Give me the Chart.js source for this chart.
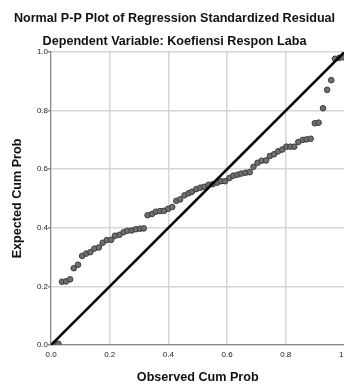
<!DOCTYPE html>
<html>
<head>
<meta charset="utf-8">
<script src="https://cdn.jsdelivr.net/npm/chart.js@4"></script>
<style>
  html, body { margin: 0; padding: 0; background: #fff; overflow: hidden; width: 344px; height: 385px; }
  #wrap { width: 355px; height: 385px; }
</style>
</head>
<body>
<div id="wrap"><canvas id="c" width="355" height="385"></canvas></div>
<script>
const chartTitle = 'Normal P-P Plot of Regression Standardized Residual';
const chartSubtitle = 'Dependent Variable: Koefiensi Respon Laba';
const xAxisTitle = 'Observed Cum Prob';
const yAxisTitle = 'Expected Cum Prob';
const xTickLabels = ['0.0', '0.2', '0.4', '0.6', '0.8', '1.0'];
const yTickLabels = ['0.0', '0.2', '0.4', '0.6', '0.8', '1.0'];

const observedCumProb = [
  0.012, 0.025, 0.0375, 0.051, 0.065, 0.0775, 0.092, 0.106, 0.120, 0.134,
  0.148, 0.163, 0.176, 0.190, 0.205, 0.218, 0.233, 0.247, 0.260, 0.275,
  0.289, 0.303, 0.316, 0.329, 0.344, 0.357, 0.371, 0.385, 0.399, 0.413,
  0.427, 0.440, 0.455, 0.469, 0.480, 0.495, 0.509, 0.522, 0.537, 0.551,
  0.566, 0.579, 0.593, 0.608, 0.621, 0.635, 0.648, 0.663, 0.677, 0.690,
  0.704, 0.718, 0.733, 0.746, 0.760, 0.774, 0.788, 0.802, 0.816, 0.829,
  0.843, 0.858, 0.871, 0.885, 0.899, 0.912, 0.927, 0.941, 0.955, 0.968,
  0.982, 0.996
];
const expectedCumProb = [
  0.003, 0.004, 0.216, 0.217, 0.224, 0.262, 0.274, 0.304, 0.312, 0.317,
  0.329, 0.333, 0.349, 0.358, 0.359, 0.373, 0.376, 0.385, 0.390, 0.391,
  0.395, 0.397, 0.398, 0.443, 0.447, 0.455, 0.457, 0.458, 0.465, 0.471,
  0.492, 0.497, 0.511, 0.518, 0.523, 0.532, 0.537, 0.540, 0.547, 0.549,
  0.554, 0.559, 0.559, 0.570, 0.578, 0.581, 0.585, 0.588, 0.590, 0.608,
  0.622, 0.629, 0.630, 0.645, 0.651, 0.661, 0.667, 0.677, 0.677, 0.677,
  0.693, 0.700, 0.702, 0.704, 0.757, 0.759, 0.808, 0.871, 0.904, 0.977,
  0.980, 0.982
];
const diagonalX = [0, 1];
const diagonalY = [0, 1];

const FONT = "'Liberation Sans', Arial, sans-serif";
const points = observedCumProb.map((x, i) => ({ x: x, y: expectedCumProb[i] }));
const diag = diagonalX.map((x, i) => ({ x: x, y: diagonalY[i] }));

new Chart(document.getElementById('c'), {
  type: 'scatter',
  data: {
    datasets: [
      {
        type: 'line',
        data: diag,
        borderColor: '#000000',
        borderWidth: 2.6,
        pointRadius: 0,
        fill: false,
        order: 0
      },
      {
        type: 'scatter',
        data: points,
        backgroundColor: '#6f6f6f',
        borderColor: '#3c3c3c',
        borderWidth: 1,
        pointRadius: 2.8,
        order: 1
      }
    ]
  },
  options: {
    responsive: false,
    animation: false,
    devicePixelRatio: 1,
    layout: { padding: { left: 0, right: 6, top: 0, bottom: 0 } },
    plugins: {
      legend: { display: false },
      tooltip: { enabled: false },
      title: {
        display: true,
        text: chartTitle,
        color: '#111',
        font: { family: FONT, size: 12.6, weight: 'bold' },
        padding: { top: 11, bottom: 0 }
      },
      subtitle: {
        display: true,
        text: chartSubtitle,
        color: '#111',
        font: { family: FONT, size: 12.6, weight: 'bold' },
        padding: { top: 8.3, bottom: 2.5 }
      }
    },
    scales: {
      x: {
        type: 'linear',
        min: 0, max: 1,
        ticks: {
          stepSize: 0.2,
          padding: 5,
          color: '#222',
          font: { family: FONT, size: 8 },
          maxRotation: 0,
          callback: (v, i) => xTickLabels[i]
        },
        grid: { color: '#d6d6d6', lineWidth: 1.5, drawTicks: false },
        border: { display: true, color: '#8a8a8a', width: 1.2 },
        title: {
          display: true,
          text: xAxisTitle,
          color: '#111',
          font: { family: FONT, size: 12.6, weight: 'bold' },
          padding: { top: 5.3, bottom: 0 }
        }
      },
      y: {
        type: 'linear',
        min: 0, max: 1,
        ticks: {
          stepSize: 0.2,
          padding: 0,
          color: '#222',
          font: { family: FONT, size: 8 },
          callback: (v, i) => yTickLabels[i]
        },
        grid: { color: '#d6d6d6', lineWidth: 1.5, drawTicks: true, tickLength: 3, tickColor: '#8a8a8a' },
        border: { display: true, color: '#8a8a8a', width: 1.2 },
        title: {
          display: true,
          text: yAxisTitle,
          color: '#111',
          font: { family: FONT, size: 12.6, weight: 'bold' },
          padding: { top: 10.4, bottom: 11.4 }
        }
      }
    }
  }
});
</script>
</body>
</html>
